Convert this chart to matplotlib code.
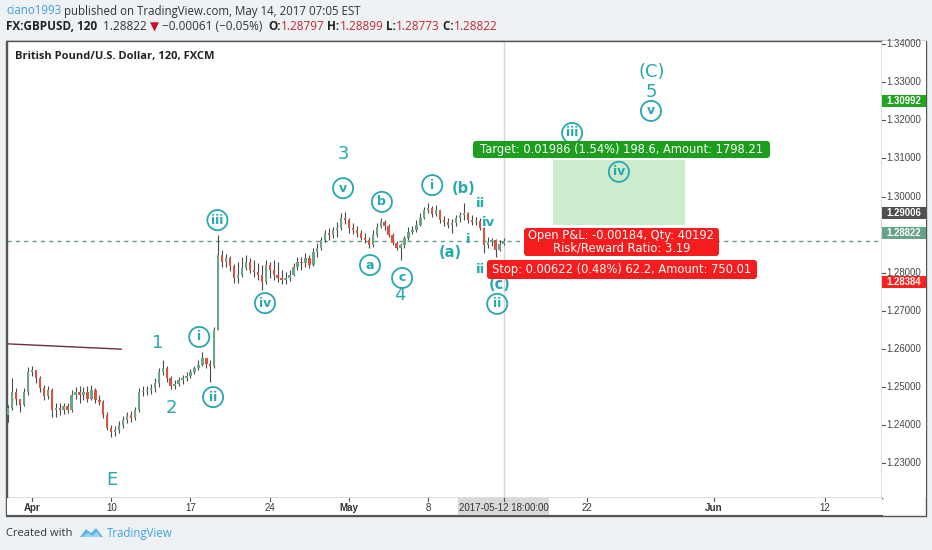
import numpy as np
import matplotlib.pyplot as plt
from matplotlib.patches import Rectangle, FancyBboxPatch, Polygon

# ==== DATA (FX:GBPUSD; one candle per 6 hours) ====
open_first = 1.2426
closes = [
    1.2444, 1.2486, 1.2468, 1.2452, 1.2486, 1.2539, 1.2544, 1.2523, 1.2497, 1.2476,
    1.2492, 1.2439, 1.2444, 1.2439, 1.2450, 1.2439, 1.2479, 1.2486, 1.2479, 1.2486,
    1.2468, 1.2492, 1.2465, 1.2460, 1.2426, 1.2392, 1.2381, 1.2387, 1.2400, 1.2413,
    1.2426, 1.2418, 1.2439, 1.2486, 1.2489, 1.2492, 1.2497, 1.2510, 1.2539, 1.2550,
    1.2523, 1.2502, 1.2508, 1.2518, 1.2523, 1.2529, 1.2539, 1.2550, 1.2557, 1.2576,
    1.2560, 1.2555, 1.2649, 1.2846, 1.2828, 1.2839, 1.2818, 1.2786, 1.2794, 1.2812,
    1.2828, 1.2807, 1.2802, 1.2794, 1.2775, 1.2820, 1.2807, 1.2794, 1.2786, 1.2781,
    1.2786, 1.2794, 1.2815, 1.2828, 1.2825, 1.2839, 1.2820, 1.2854, 1.2865, 1.2886,
    1.2904, 1.2899, 1.2912, 1.2917, 1.2944, 1.2938, 1.2917, 1.2912, 1.2904, 1.2891,
    1.2886, 1.2873, 1.2899, 1.2920, 1.2933, 1.2923, 1.2899, 1.2878, 1.2865, 1.2873,
    1.2891, 1.2907, 1.2912, 1.2925, 1.2944, 1.2965, 1.2970, 1.2954, 1.2965, 1.2938,
    1.2933, 1.2925, 1.2930, 1.2944, 1.2952, 1.2957, 1.2938, 1.2933, 1.2936, 1.2917,
    1.2873, 1.2881, 1.2886, 1.2860, 1.2875, 1.2882,
]
highs = [
    1.2452, 1.2523, 1.2497, 1.2468, 1.2497, 1.2552, 1.2555, 1.2544, 1.2529, 1.2505,
    1.2502, 1.2497, 1.2458, 1.2458, 1.2458, 1.2458, 1.2492, 1.2500, 1.2502, 1.2500,
    1.2502, 1.2505, 1.2497, 1.2479, 1.2465, 1.2434, 1.2400, 1.2397, 1.2410, 1.2423,
    1.2434, 1.2437, 1.2447, 1.2497, 1.2502, 1.2502, 1.2508, 1.2523, 1.2550, 1.2571,
    1.2555, 1.2529, 1.2518, 1.2526, 1.2531, 1.2539, 1.2547, 1.2555, 1.2571, 1.2592,
    1.2576, 1.2571, 1.2657, 1.2899, 1.2860, 1.2849, 1.2844, 1.2823, 1.2828, 1.2841,
    1.2846, 1.2839, 1.2833, 1.2825, 1.2820, 1.2833, 1.2828, 1.2833, 1.2828, 1.2807,
    1.2802, 1.2807, 1.2825, 1.2841, 1.2841, 1.2852, 1.2846, 1.2865, 1.2878, 1.2894,
    1.2912, 1.2917, 1.2920, 1.2933, 1.2957, 1.2959, 1.2944, 1.2930, 1.2923, 1.2912,
    1.2904, 1.2894, 1.2912, 1.2930, 1.2944, 1.2938, 1.2928, 1.2904, 1.2883, 1.2878,
    1.2896, 1.2920, 1.2923, 1.2938, 1.2957, 1.2972, 1.2983, 1.2975, 1.2978, 1.2965,
    1.2949, 1.2944, 1.2941, 1.2952, 1.2959, 1.2983, 1.2959, 1.2952, 1.2946, 1.2944,
    1.2920, 1.2894, 1.2891, 1.2889, 1.2886, 1.2891,
]
lows = [
    1.2408, 1.2439, 1.2452, 1.2434, 1.2450, 1.2479, 1.2529, 1.2510, 1.2486, 1.2465,
    1.2468, 1.2421, 1.2421, 1.2426, 1.2429, 1.2431, 1.2434, 1.2468, 1.2458, 1.2465,
    1.2460, 1.2465, 1.2458, 1.2452, 1.2418, 1.2387, 1.2368, 1.2371, 1.2379, 1.2392,
    1.2405, 1.2408, 1.2413, 1.2434, 1.2476, 1.2479, 1.2481, 1.2486, 1.2500, 1.2531,
    1.2513, 1.2494, 1.2494, 1.2502, 1.2508, 1.2515, 1.2523, 1.2534, 1.2544, 1.2555,
    1.2550, 1.2513, 1.2550, 1.2649, 1.2815, 1.2815, 1.2804, 1.2773, 1.2773, 1.2789,
    1.2807, 1.2799, 1.2789, 1.2781, 1.2754, 1.2770, 1.2786, 1.2781, 1.2775, 1.2770,
    1.2770, 1.2778, 1.2791, 1.2807, 1.2807, 1.2815, 1.2812, 1.2818, 1.2841, 1.2860,
    1.2881, 1.2886, 1.2891, 1.2894, 1.2912, 1.2928, 1.2904, 1.2902, 1.2894, 1.2886,
    1.2878, 1.2865, 1.2867, 1.2894, 1.2917, 1.2912, 1.2894, 1.2873, 1.2860, 1.2833,
    1.2865, 1.2886, 1.2902, 1.2907, 1.2923, 1.2941, 1.2957, 1.2946, 1.2949, 1.2930,
    1.2923, 1.2917, 1.2904, 1.2923, 1.2933, 1.2938, 1.2930, 1.2925, 1.2925, 1.2912,
    1.2852, 1.2865, 1.2870, 1.2841, 1.2857, 1.2873,
]

last_price = 1.28822
price_ticks = [1.23, 1.24, 1.25, 1.26, 1.27, 1.28, 1.29, 1.30, 1.31, 1.32, 1.33, 1.34]

date_ticks = [6, 26, 46, 66, 86, 106, 146, 178, 206]
date_labels = ["Apr", "10", "17", "24", "May", "8", "22", "Jun", "12"]
month_labels = {"Apr", "May", "Jun"}
cursor_bar = 125
cursor_label = "2017-05-12 18:00:00"

# long position tool: profit zone and tags
zone_bars = (137.5, 170.8)
zone_prices = (1.2925, 1.3096)
target_text = "Target: 0.01986 (1.54%) 198.6, Amount: 1798.21"
pnl_text = "Open P&L: -0.00184, Qty: 40192\nRisk/Reward Ratio: 3.19"
stop_text = "Stop: 0.00622 (0.48%) 62.2, Amount: 750.01"

# price-scale tags: (text, tag centre price, colour)
scale_tags = [
    ("1.30992", 1.3251, "#22a322"),
    ("1.29006", 1.2957, "#4f4f4f"),
    ("1.28822", 1.2904, "#66a488"),
    ("1.28384", 1.2776, "#ff1f1f"),
]

# old trend line at the left
trend_bars = [-0.3, 28.5]
trend_prices = [1.2613, 1.2599]

# Elliott wave labels: (text, bar, price, style)
waves = [
    ("E", 26.2, 1.2255, "big"),
    ("1", 37.6, 1.2615, "big"),
    ("2", 41.3, 1.2444, "big"),
    ("i", 48.2, 1.2631, "circle"),
    ("ii", 51.7, 1.2473, "circle"),
    ("iii", 52.8, 1.2938, "circle"),
    ("iv", 64.8, 1.2720, "circle"),
    ("3", 84.5, 1.3112, "big"),
    ("v", 84.5, 1.3022, "circle"),
    ("a", 91.3, 1.2820, "circle"),
    ("b", 94.3, 1.2986, "circle"),
    ("c", 99.4, 1.2786, "circle"),
    ("4", 98.9, 1.2741, "big"),
    ("i", 107.0, 1.3030, "circle"),
    ("(a)", 111.5, 1.2854, "paren"),
    ("(b)", 114.8, 1.3022, "paren"),
    ("ii", 119.1, 1.2983, "small"),
    ("iv", 121.1, 1.2931, "small"),
    ("i", 116.0, 1.2886, "small"),
    ("ii", 119.1, 1.2807, "small"),
    ("(c)", 124.1, 1.2768, "paren"),
    ("ii", 123.4, 1.2718, "circle"),
    ("iii", 142.3, 1.3167, "circle"),
    ("iv", 154.1, 1.3065, "circle"),
    ("(C)", 162.5, 1.3327, "big"),
    ("5", 162.2, 1.3275, "big"),
    ("v", 162.2, 1.3225, "circle"),
]

# ==== STYLE ====
W, H = 932, 550
BG = "#eff2f5"
FRAME = "#555555"
TEAL = "#27a8ae"
UP, DOWN, WICK = "#6ba583", "#d75442", "#4a4a4a"
SANS = ["Open Sans", "DejaVu Sans"]

fig = plt.figure(figsize=(W / 100, H / 100), dpi=100, facecolor=BG)


def rect(l, t, r, b):
    return [l / W, 1 - b / H, (r - l) / W, (b - t) / H]


# background panel (pixel coords)
bg = fig.add_axes([0, 0, 1, 1], zorder=-10)
bg.set_xlim(0, W)
bg.set_ylim(H, 0)
bg.axis("off")
bg.add_patch(Rectangle((6, 41), 920, 475, facecolor="white", edgecolor=FRAME, lw=1))

# ==== MAIN PRICE AXES ====
ax = fig.add_axes(rect(7, 41, 882, 498))
ax.set_xlim(-0.3, 220.5)
ax.set_ylim(1.22079, 1.34087)
ax.set_xticks([])
ax.set_yticks([])
for s in ax.spines.values():
    s.set_color(FRAME)
    s.set_linewidth(1)

c = np.array(closes)
h = np.array(highs)
lo = np.array(lows)
o = np.r_[open_first, c[:-1]]
x = np.arange(len(c))
up = c >= o
ax.vlines(x, lo, h, color=WICK, lw=0.8, zorder=3)
body = np.maximum(np.abs(c - o), 0.00008)
ax.bar(x[up], body[up], bottom=o[up], width=0.6, color=UP, lw=0, zorder=4)
ax.bar(x[~up], body[~up], bottom=c[~up], width=0.6, color=DOWN, lw=0, zorder=4)

ax.axvline(cursor_bar, color="#d6d6d6", lw=1, zorder=1)
ax.axhline(last_price, color="#5f9f86", lw=1, ls=(0, (3, 3)), zorder=2)
ax.plot(trend_bars, trend_prices, color="#6e2f3d", lw=1, zorder=2)

ax.add_patch(Rectangle((zone_bars[0], zone_prices[0]), zone_bars[1] - zone_bars[0],
                       zone_prices[1] - zone_prices[0], facecolor="#cdeccd",
                       edgecolor="none", zorder=1))

for txt, bx, py, style in waves:
    if style == "circle":
        ax.scatter([bx], [py], s=14.5 ** 2, facecolors="none", edgecolors=TEAL,
                   linewidths=1.3, zorder=6)
        ax.text(bx, py, txt, color=TEAL, fontsize=9, fontweight="bold",
                ha="center", va="center", zorder=7, family="DejaVu Sans")
    elif style == "big":
        ax.text(bx, py, txt, color=TEAL, fontsize=13, ha="center", va="center",
                zorder=7, family="DejaVu Sans")
    elif style == "paren":
        ax.text(bx, py, txt, color=TEAL, fontsize=10.5, fontweight="bold",
                ha="center", va="center", zorder=7, family="DejaVu Sans")
    else:
        ax.text(bx, py, txt, color=TEAL, fontsize=9.5, fontweight="bold",
                ha="center", va="center", zorder=7, family="DejaVu Sans")

ax.text(0.009, 0.967, "British Pound/U.S. Dollar, 120, FXCM", transform=ax.transAxes,
        fontsize=8, fontweight="bold", color="#222222", va="center", family=SANS)

# ==== PRICE SCALE ====
axp = fig.add_axes(rect(882, 41, 926, 498), sharey=ax)
axp.set_xlim(0, 1)
axp.set_xticks([])
axp.tick_params(left=False, labelleft=False)
for s in axp.spines.values():
    s.set_visible(False)
for v in price_ticks:
    axp.plot([0, 0.07], [v, v], color="#555555", lw=0.8, clip_on=False)
    axp.text(0.1, v, f"{v:.5f}", fontsize=6.9, color="#444444", va="center",
             ha="left", family="Liberation Sans")
tag_h = 0.00318
for txt, py, col in scale_tags:
    axp.add_patch(Rectangle((0, py - tag_h / 2), 1, tag_h, facecolor=col,
                            edgecolor="none", zorder=5))
    axp.text(0.5, py, txt, fontsize=6.9, color="white", fontweight="bold",
             ha="center", va="center", zorder=6, family="Liberation Sans")

# ==== TIME SCALE ====
axt = fig.add_axes(rect(7, 498, 882, 515), sharex=ax)
axt.set_ylim(0, 1)
axt.set_yticks([])
axt.tick_params(bottom=False, labelbottom=False)
for k, s in axt.spines.items():
    s.set_visible(k == "bottom")
    s.set_color(FRAME)
for t, lab in zip(date_ticks, date_labels):
    axt.plot([t, t], [0.82, 1.0], color="#555555", lw=0.8)
    axt.text(t, 0.42, lab, ha="center", va="center", fontsize=7, color="#333333",
             fontweight="bold" if lab in month_labels else "normal",
             family="Liberation Sans")
axt.add_patch(Rectangle((cursor_bar - 11.5, 0), 23, 1, facecolor="#d9d9d9",
                        edgecolor="none", zorder=4))
axt.plot([cursor_bar, cursor_bar], [0.82, 1.0], color="#555555", lw=0.8, zorder=5)
axt.text(cursor_bar, 0.42, cursor_label, ha="center", va="center", fontsize=7,
         color="#333333", zorder=5, family="Liberation Sans")

# ==== OVERLAY: header, badges, footer (pixel coords) ====
ov = fig.add_axes([0, 0, 1, 1], zorder=20)
ov.set_xlim(0, W)
ov.set_ylim(H, 0)
ov.axis("off")
ov.patch.set_alpha(0)
renderer = fig.canvas.get_renderer()


def run(x0, y0, parts, size):
    xx = x0
    for s, col, wt in parts:
        t = ov.text(xx, y0, s, color=col, fontsize=size, fontweight=wt,
                    va="center", ha="left", family=SANS)
        xx += t.get_window_extent(renderer=renderer).width


run(6, 11, [("ciano1993", "#3d9fd8", "normal"),
            (" published on TradingView.com, May 14, 2017 07:05 EST", "#333333", "normal")], 8.3)
RED = "#c0272d"
run(6, 27, [("FX:GBPUSD, 120", "#222222", "bold"),
            ("  1.28822 ", "#333333", "normal"),
            ("\u25bc", "#c8102e", "normal"),
            (" \u22120.00061 (\u22120.05%)  ", "#333333", "normal"),
            ("O:", "#222222", "bold"), ("1.28797", RED, "normal"),
            (" H:", "#222222", "bold"), ("1.28899", RED, "normal"),
            (" L:", "#222222", "bold"), ("1.28773", RED, "normal"),
            (" C:", "#222222", "bold"), ("1.28822", RED, "normal")], 8.5)


def badge(l, t, r, b, col, txt, size=8.3, ls=1.0):
    ov.add_patch(FancyBboxPatch((l, t), r - l, b - t, boxstyle="round,pad=0,rounding_size=3",
                                facecolor=col, edgecolor="none"))
    ov.text((l + r) / 2, (t + b) / 2, txt, color="white", fontsize=size, ha="center",
            va="center", linespacing=ls, family="DejaVu Sans")


badge(473, 141, 770, 158, "#1d9e1d", target_text)
badge(524, 228, 719, 256, "#f41c1c", pnl_text, ls=0.95)
badge(487, 260, 757, 279, "#f41c1c", stop_text)

# footer
ov.text(6, 533, "Created with", fontsize=8, color="#333333", va="center", family=SANS)
ov.add_patch(Polygon([(80, 537), (86, 529), (91, 533), (96, 528), (103, 537)],
                     closed=True, facecolor="#5fb4e4", edgecolor="none"))
ov.add_patch(Polygon([(82, 537), (88, 533), (92, 536), (97, 532), (101, 537)],
                     closed=True, facecolor="#9dd2ef", edgecolor="none"))
ov.text(107, 533, "TradingView", fontsize=8.3, color="#3fa3df", va="center", family=SANS)

fig.savefig("out.png", dpi=100, facecolor=BG)
